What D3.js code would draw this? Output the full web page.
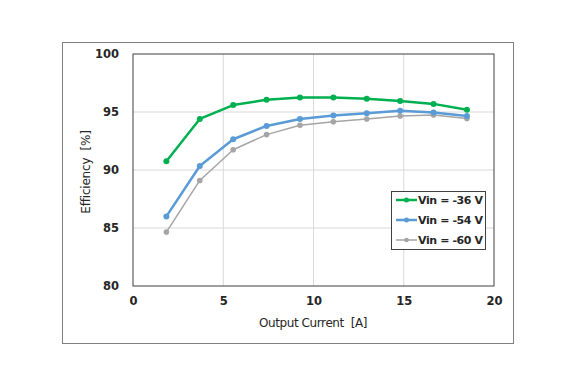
<!DOCTYPE html>
<html><head><meta charset="utf-8">
<script src="https://cdn.jsdelivr.net/npm/d3@7"></script>
<style>body{margin:0;background:#fff}svg{display:block}text{white-space:pre}</style>
</head><body>
<script>
const current = [1.85, 3.7, 5.55, 7.4, 9.25, 11.1, 12.95, 14.8, 16.65, 18.5];
const vin36 = [90.75, 94.4, 95.6, 96.05, 96.25, 96.25, 96.15, 95.95, 95.7, 95.2];
const vin54 = [86.0, 90.35, 92.65, 93.8, 94.4, 94.7, 94.9, 95.1, 94.95, 94.65];
const vin60 = [84.65, 89.1, 91.75, 93.05, 93.85, 94.15, 94.4, 94.65, 94.75, 94.45];
const seriesNames = ["Vin = -36 V", "Vin = -54 V", "Vin = -60 V"];
const xTicks = [0, 5, 10, 15, 20];
const yTicks = [80, 85, 90, 95, 100];

const W = 577, H = 386;
const svg = d3.select("body").append("svg").attr("width", W).attr("height", H);
const L = 133, R = 494, T = 54, B = 286;
const x = d3.scaleLinear().domain([0, 20]).range([L, R]);
const y = d3.scaleLinear().domain([80, 100]).range([B, T]);

// outer frame
svg.append("rect").attr("x", 62.5).attr("y", 42.5).attr("width", 451).attr("height", 301)
  .attr("fill", "#fff").attr("stroke", "#7f7f7f").attr("stroke-width", 1);

// grid
svg.append("g").selectAll("line").data(xTicks.slice(1, -1)).join("line")
  .attr("x1", d => x(d)).attr("x2", d => x(d)).attr("y1", T).attr("y2", B)
  .attr("stroke", "#d9d9d9").attr("stroke-width", 1);
svg.append("g").selectAll("line").data(yTicks.slice(1, -1)).join("line")
  .attr("y1", d => y(d)).attr("y2", d => y(d)).attr("x1", L).attr("x2", R)
  .attr("stroke", "#d9d9d9").attr("stroke-width", 1);

// plot border
svg.append("rect").attr("x", L).attr("y", T).attr("width", R - L).attr("height", B - T)
  .attr("fill", "none").attr("stroke", "#404040").attr("stroke-width", 1);

const font = "'DejaVu Sans', sans-serif";
const xAxis = svg.append("g").attr("transform", `translate(0,${B})`)
  .call(d3.axisBottom(x).tickValues(xTicks).tickSize(0).tickPadding(11));
const yAxis = svg.append("g").attr("transform", `translate(${L},0)`)
  .call(d3.axisLeft(y).tickValues(yTicks).tickSize(0).tickPadding(14));
[xAxis, yAxis].forEach(a => {
  a.select(".domain").remove();
  a.selectAll("text").attr("font-family", font).attr("font-size", 11.5)
    .attr("font-weight", "bold").attr("fill", "#262626");
});

svg.append("text").attr("x", 313).attr("y", 327).attr("text-anchor", "middle")
  .attr("font-family", font).attr("font-size", 12).attr("fill", "#262626")
  .attr("letter-spacing", -0.4).text("Output Current  [A]");
svg.append("text").attr("transform", "translate(90,172) rotate(-90)").attr("text-anchor", "middle")
  .attr("font-family", font).attr("font-size", 12).attr("fill", "#262626")
  .attr("letter-spacing", -0.2).text("Efficiency  [%]");

const series = [
  {name: seriesNames[0], values: vin36, color: "#00b050", w: 2.5, r: 3},
  {name: seriesNames[1], values: vin54, color: "#5b9bd5", w: 2.5, r: 3},
  {name: seriesNames[2], values: vin60, color: "#a5a5a5", w: 1.5, r: 2.8}
];
const line = d3.line().x((d, i) => x(current[i])).y(d => y(d));
series.slice().reverse().forEach(s => {
  svg.append("path").datum(s.values).attr("d", line).attr("fill", "none")
    .attr("stroke", s.color).attr("stroke-width", s.w).attr("stroke-linejoin", "round");
  svg.append("g").selectAll("circle").data(s.values).join("circle")
    .attr("cx", (d, i) => x(current[i])).attr("cy", d => y(d)).attr("r", s.r).attr("fill", s.color);
});

// legend
const lg = svg.append("g");
lg.append("rect").attr("x", 391.5).attr("y", 191.5).attr("width", 94).attr("height", 58)
  .attr("fill", "#fff").attr("stroke", "#404040").attr("stroke-width", 1);
series.forEach((s, i) => {
  const yy = 200 + i * 20;
  lg.append("line").attr("x1", 396).attr("x2", 417).attr("y1", yy).attr("y2", yy)
    .attr("stroke", s.color).attr("stroke-width", s.w);
  lg.append("circle").attr("cx", 406.5).attr("cy", yy).attr("r", s.r - 0.5).attr("fill", s.color);
  lg.append("text").attr("x", 418).attr("y", yy + 4).attr("font-family", font).attr("font-size", 11)
    .attr("font-weight", "bold").attr("fill", "#262626").attr("letter-spacing", -0.4).text(s.name);
});
</script>
</body></html>
